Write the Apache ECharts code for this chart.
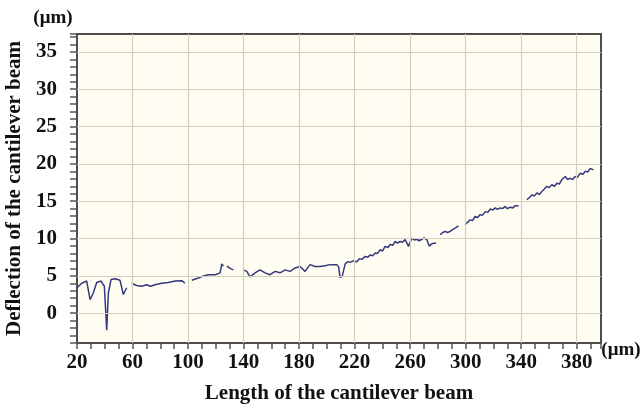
<!DOCTYPE html>
<html>
<head>
<meta charset="utf-8">
<script src="https://cdn.jsdelivr.net/npm/echarts@6/dist/echarts.min.js"></script>
<style>html,body{margin:0;padding:0;background:#fff;}#c{width:642px;height:408px;}</style>
</head>
<body>
<div id="c"></div>
<script>
// Length along the beam (µm) and measured deflection (µm); null = gap in trace
var xs = [20,23.4,27,29.4,31.7,34.2,37.3,39.7,41.4,42.6,44.5,47.4,51,53.4,55.8,57,
  59.4,63,66.6,70.2,73,76.2,81,85.8,90.6,95.5,97.8,100,
  102.7,107.4,110,114.6,119.5,123.1,124.3,125.5,126.5,128,130.3,132.6,135,
  139.9,142.3,144.7,148.3,151.9,155.5,159.1,162.7,166.3,169.9,173.5,177.1,180.7,184.3,187.9,191.5,195.1,198.7,202.3,207.2,208.5,209.5,211,
  213.2,215,216.8,219,221.6,223.5,225.2,227.6,229.5,231.2,233,234.8,236.5,238.4,240,242,244,245.6,247.5,249.2,251,252.8,254.5,256.4,258.8,261.2,263,264.8,266.5,268.4,270,272,273.9,275.5,276.8,278.7,280,
  281.6,283.5,285.2,287,288.8,290.5,292.4,294.8,297,
  299.6,301.5,303.2,305,306.8,308.5,310.5,312,314.1,316,317.7,319.5,321.3,323,324.9,326.5,328.5,330,332.1,334,335.7,338.1,341,
  344.1,346,347.7,349.5,351.3,353,354.9,356.5,358.5,360,362.1,364,365.7,367.5,369.3,371.7,373.5,375.3,377,378.9,380.5,382.5,384.5,386.1,388,389.7,392.1];
var ys = [3.4,4.0,4.3,1.8,2.7,4.1,4.3,3.6,-2.3,2.7,4.5,4.6,4.4,2.5,3.4,null,
  4.0,3.7,3.6,3.8,3.6,3.8,4.0,4.1,4.3,4.35,4.0,null,
  4.4,4.7,4.9,5.15,5.15,5.4,6.6,6.3,null,6.3,6.0,5.8,null,
  5.8,5.6,4.85,5.4,5.8,5.4,5.15,5.6,5.4,5.8,5.6,6.05,6.25,5.6,6.5,6.25,6.25,6.35,6.5,6.5,6.2,4.8,4.9,
  6.6,6.9,6.8,7.0,6.9,7.3,7.2,7.6,7.5,7.8,7.7,8.05,8.0,8.5,8.3,8.95,8.8,9.2,9.1,9.6,9.4,9.6,9.5,9.85,8.95,10.05,9.8,9.9,9.7,9.9,10.1,9.85,8.95,9.3,9.2,9.4,null,
  10.5,10.8,10.95,10.8,10.95,11.2,11.4,11.7,null,
  11.85,12.2,12.5,12.4,12.95,12.8,13.2,13.1,13.6,13.5,13.95,13.8,14.1,13.9,14.1,14.0,14.3,14.0,14.2,14.1,14.4,14.4,null,
  15.2,15.5,15.85,15.7,16.1,15.9,16.3,16.6,17.0,16.8,17.2,17.0,17.4,17.3,17.9,18.3,17.9,18.1,17.9,18.3,18.2,18.75,18.6,19.0,18.9,19.4,19.2];
var xTickLabels = [20,60,100,140,180,220,260,300,340,380];
var yTickLabels = [0,5,10,15,20,25,30,35];
var xGridLines = [60,100,140,180,220,260,300,340,380];
var yGridLines = [0,5,10,15,20,25,30,35];

var FONT = '"Liberation Serif", "DejaVu Serif", serif';
var data = xs.map(function (x, i) { return [x, ys[i] === null ? null : ys[i]]; });
var gridStyle = {color: '#d4d0bd', width: 1.2, type: 'solid'};
var markData = xGridLines.map(function (v) { return {xAxis: v}; })
  .concat(yGridLines.map(function (v) { return {yAxis: v}; }));

var chart = echarts.init(document.getElementById('c'), null, {renderer: 'canvas'});
chart.setOption({
  animation: false,
  backgroundColor: '#ffffff',
  grid: {left: 77, top: 34, right: 41, bottom: 65, show: true, containLabel: false,
    outerBoundsMode: 'none',
    backgroundColor: '#fffdf2', borderColor: '#4d4d4d', borderWidth: 2},
  xAxis: {
    type: 'value', min: 20, max: 397.5, interval: 10,
    name: 'Length of the cantilever beam', nameLocation: 'middle', nameGap: 40,
    nameTextStyle: {fontFamily: FONT, fontWeight: 'bold', fontSize: 21, color: '#111'},
    axisLine: {show: false, onZero: false},
    axisTick: {show: true, inside: false, length: 6, lineStyle: {color: '#555', width: 1.5}},
    axisLabel: {margin: 9, fontFamily: FONT, fontWeight: 'bold', fontSize: 21, color: '#111',
      formatter: function (v) { return xTickLabels.indexOf(v) >= 0 ? String(v) : ''; }},
    splitLine: {show: false}
  },
  yAxis: {
    type: 'value', min: -4, max: 37.4, interval: 1,
    name: 'Deflection of the cantilever beam', nameLocation: 'middle', nameGap: 52,
    nameTextStyle: {fontFamily: FONT, fontWeight: 'bold', fontSize: 21, color: '#111'},
    axisLine: {show: false, onZero: false},
    axisTick: {show: true, inside: false, length: 7, lineStyle: {color: '#555', width: 1.5}},
    axisLabel: {margin: 20, fontFamily: FONT, fontWeight: 'bold', fontSize: 21, color: '#111',
      formatter: function (v) { return yTickLabels.indexOf(v) >= 0 ? String(v) : ''; }},
    splitLine: {show: false}
  },
  graphic: [
    {type: 'text', x: 53, y: 18, style: {text: '(μm)', fontFamily: FONT, fontWeight: 'bold', fontSize: 19,
      fill: '#111', align: 'center', verticalAlign: 'middle'}},
    {type: 'text', x: 621, y: 350, style: {text: '(μm)', fontFamily: FONT, fontWeight: 'bold', fontSize: 19,
      fill: '#111', align: 'center', verticalAlign: 'middle'}}
  ],
  series: [
    {type: 'line', data: [], z: 1, silent: true,
      markLine: {silent: true, symbol: 'none', label: {show: false}, lineStyle: gridStyle,
        emphasis: {disabled: true}, data: markData}},
    {type: 'line', data: data, z: 3, showSymbol: false, symbol: 'none', connectNulls: false,
      lineStyle: {color: '#36397e', width: 1.5}}
  ]
});
</script>
</body>
</html>
